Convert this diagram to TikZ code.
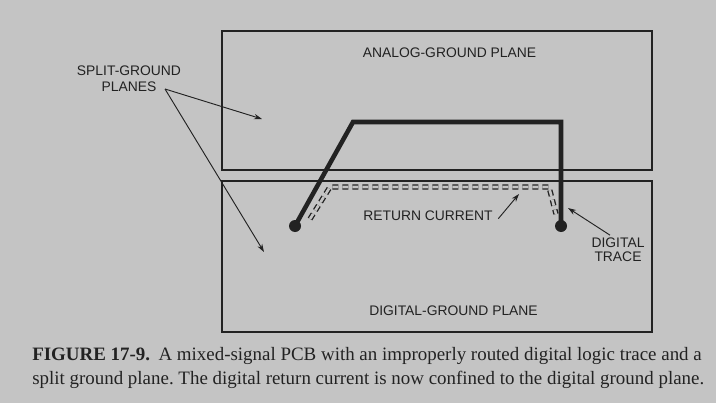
\documentclass[tikz,border=0pt]{standalone}
\usepackage{fontspec}
\setmainfont{Liberation Serif}
\setsansfont{Liberation Sans}
\usepackage{xcolor}
\definecolor{paper}{HTML}{C4C4C4}
\definecolor{ink}{HTML}{222222}
\usetikzlibrary{arrows.meta, positioning, calc}
\frenchspacing

\begin{document}
\begin{tikzpicture}[
    x=0.75pt, y=-0.75pt,
    font=\sffamily\fontsize{10.4}{12}\selectfont,
    >={Stealth[length=6pt,width=4pt]},
    draw=ink, text=ink,
    plane/.style={draw=ink, line width=1.5pt, minimum width=322.5pt, inner sep=0pt},
    trace/.style={draw=ink, line width=3.4pt, line join=miter},
    via/.style={circle, fill=ink, inner sep=0pt, minimum size=9pt},
    ret/.style={draw=ink, dash pattern=on 4.5pt off 3pt, double=paper, double distance=2pt, line width=1pt},
    callout/.style={->, draw=ink, line width=0.7pt},
    tag/.style={align=center, text=ink, inner sep=0pt},
    capline/.style={font=\rmfamily\fontsize{14.2}{18}\selectfont, anchor=base west, inner sep=0pt},
]
\useasboundingbox[fill=paper] (0,0) rectangle (716,403);

% ground planes
\node[plane, minimum height=104.25pt] (analog) at (437,100.5) {};
\node[plane, minimum height=113.25pt] (digital) at (437,256.5) {};
\node[tag] (alabel) at (449.5,53) {ANALOG-GROUND PLANE};
\node[tag] (dlabel) at (453.5,311) {DIGITAL-GROUND PLANE};

% digital trace
\node[via] (viaA) at (295,226) {};
\node[via] (viaB) at (561,226) {};
\coordinate (bendA) at (353,122);
\coordinate (bendB) at (561,122);
\draw[trace] (viaA.center) -- (bendA) -- (bendB) -- (viaB.center);

% return current
\coordinate (retA) at (310,219);
\coordinate (retB) at (330,187);
\coordinate (retC) at (549,187);
\coordinate (retD) at (556,214);
\draw[ret] (retA) -- (retB) -- (retC) -- (retD);

% labels and callouts
\node[tag, font=\sffamily\fontsize{10.4}{12}\selectfont] (split) at (129,79) {SPLIT-GROUND\\PLANES};
\coordinate (splitpt) at (165,89);
\coordinate (upper) at (262,119);
\coordinate (lower) at (264,252);
\draw[callout] (splitpt) -- (upper);
\draw[callout] (splitpt) -- (lower);

\node[tag] (retlabel) at (428,216) {RETURN CURRENT};
\coordinate (rettip) at (519,194);
\draw[callout] (retlabel.east) ++(4pt,-2pt) -- (rettip);

\node[tag, font=\sffamily\fontsize{10.4}{10.5}\selectfont] (dtrace) at (618,250) {DIGITAL\\TRACE};
\coordinate (tracetip) at (568,208);
\draw[callout] (dtrace.north) ++(-6pt,2pt) -- (tracetip);

% caption
\node[capline] (cap1) at (32,360.7) {\textbf{FIGURE 17-9.}\hspace{0.45em}A mixed-signal PCB with an improperly routed digital logic trace and a};
\node[capline] (cap2) at (32,384.7) {split ground plane. The digital return current is now confined to the digital ground plane.};
\end{tikzpicture}
\end{document}
